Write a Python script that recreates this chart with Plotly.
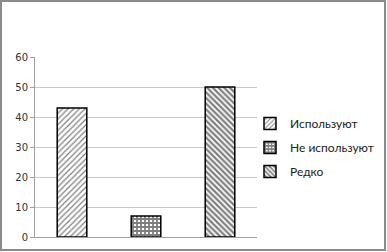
import plotly.graph_objects as go

categories = ["Используют", "Не используют", "Редко"]
values = [43, 7, 50]
y_ticks = [0, 10, 20, 30, 40, 50, 60]

W, H = 387, 252
M = 2
PW, PH = W - 2 * M, H - 2 * M


def px_x(p):
    return (p - M) / PW


def px_y(p):
    return (H - M - p) / PH


patterns = [
    dict(shape="/", fgcolor="black", bgcolor="white", size=4, solidity=0.3),
    dict(shape="+", fgcolor="black", bgcolor="white", size=4, solidity=0.7),
    dict(shape="\\", fgcolor="black", bgcolor="white", size=4, solidity=0.55),
]

fig = go.Figure()
for i, (name, v) in enumerate(zip(categories, values)):
    fig.add_trace(go.Bar(
        x=[i], y=[v], name=name, width=0.4,
        marker=dict(color="white", pattern=patterns[i],
                    line=dict(color="black", width=1.5)),
        legendgroup=name,
    ))

fig.update_layout(
    width=W, height=H,
    margin=dict(l=M, r=M, t=M, b=M, autoexpand=False),
    paper_bgcolor="white", plot_bgcolor="white",
    showlegend=True,
    legend=dict(x=px_x(250), y=px_y(109), xanchor="left", yanchor="top",
                font=dict(family="Lato", size=12, color="#222"),
                tracegroupgap=5, traceorder="grouped", itemwidth=30,
                bgcolor="rgba(0,0,0,0)"),
    xaxis=dict(domain=[px_x(35), px_x(257)], range=[-0.5, 2.5],
               showticklabels=False, showgrid=False,
               zeroline=False, showline=True, linecolor="#a0a0a0", linewidth=1,
               ticks=""),
    yaxis=dict(domain=[px_y(237), px_y(57)], range=[0, 60], tickvals=y_ticks,
               showgrid=True, gridcolor="#c8c8c8",
               gridwidth=1, zeroline=False, showline=True, linecolor="#a0a0a0",
               linewidth=1, ticks="outside", ticklen=4, tickcolor="#a0a0a0",
               tickfont=dict(family="DejaVu Sans", size=10, color="#333")),
    shapes=[dict(type="rect", xref="paper", yref="paper",
                 x0=px_x(1), x1=px_x(W - 2),
                 y0=px_y(H - 2), y1=px_y(1),
                 line=dict(color="#8a8a8a", width=2), fillcolor="rgba(0,0,0,0)")],
)

fig.write_html("out.html", config={"displayModeBar": False},
               post_script="document.body.style.margin='0';document.body.style.padding='0';document.body.style.overflow='hidden';")
